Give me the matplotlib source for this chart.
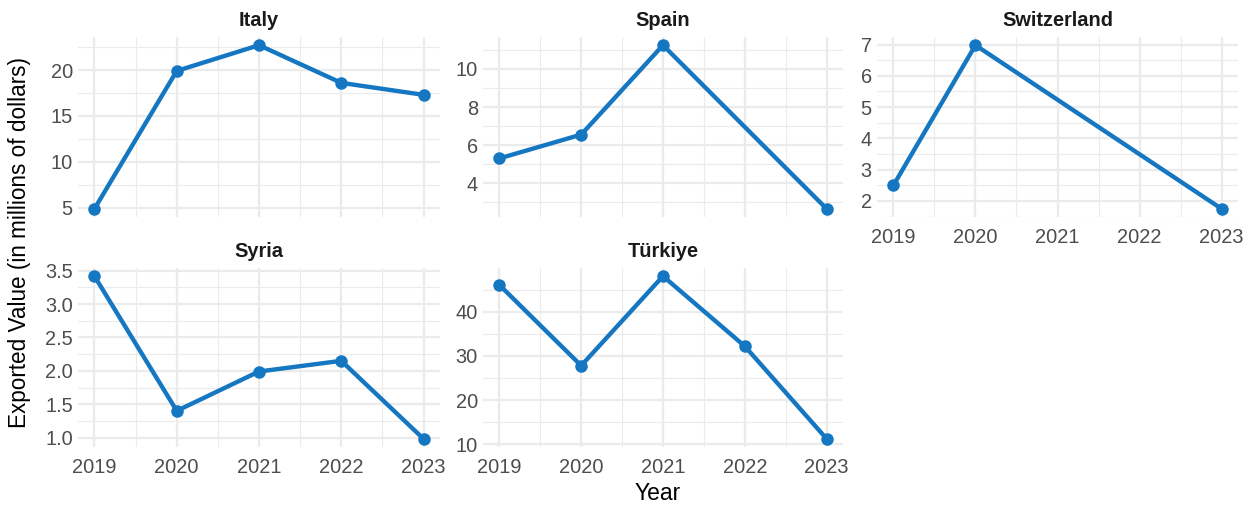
#!/usr/bin/env python3
"""Exported value by country, 2019-2023 -- small multiples in a ggplot-like minimal style."""

import matplotlib
matplotlib.use("Agg")
import matplotlib.pyplot as plt
from matplotlib.ticker import MultipleLocator, FormatStrFormatter

# ─── Data (millions of dollars) ─────────────────────────────────────────────

countries = ["Italy", "Spain", "Switzerland", "Syria", "Türkiye"]

italy_years = [2019, 2020, 2021, 2022, 2023]
italy_values = [4.9, 19.9, 22.7, 18.6, 17.3]

spain_years = [2019, 2020, 2021, 2023]
spain_values = [5.3, 6.55, 11.25, 2.65]

switzerland_years = [2019, 2020, 2023]
switzerland_values = [2.5, 6.98, 1.75]

syria_years = [2019, 2020, 2021, 2022, 2023]
syria_values = [3.42, 1.4, 1.99, 2.15, 0.98]

turkiye_years = [2019, 2020, 2021, 2022, 2023]
turkiye_values = [46.1, 27.8, 48.1, 32.2, 11.2]

year_ticks = [2019, 2020, 2021, 2022, 2023]

# ─── Style ──────────────────────────────────────────────────────────────────

W, H, DPI = 1252, 506, 150
LINE_COLOR = "#1577C2"
GRID_COLOR = "#EBEBEB"
TEXT_COLOR = "#4D4D4D"

plt.rcParams["font.family"] = ["Liberation Sans", "DejaVu Sans"]


def add_panel(fig, box, title, xs, ys, step, fmt, show_x):
    """box = (left, right, top, bottom) in pixels."""
    l, r, t, b = box
    ax = fig.add_axes([l / W, 1 - b / H, (r - l) / W, (b - t) / H])
    ax.plot(xs, ys, color=LINE_COLOR, linewidth=2.1, marker="o",
            markersize=5.0, solid_capstyle="round", zorder=3)

    # ggplot-style 5% expansion
    x0, x1 = min(year_ticks), max(year_ticks)
    dx = (x1 - x0) * 0.05
    ax.set_xlim(x0 - dx, x1 + dx)
    y0, y1 = min(ys), max(ys)
    dy = (y1 - y0) * 0.05
    ax.set_ylim(y0 - dy, y1 + dy)

    ax.set_xticks(year_ticks)
    ax.xaxis.set_minor_locator(MultipleLocator(0.5))
    ax.yaxis.set_major_locator(MultipleLocator(step))
    ax.yaxis.set_minor_locator(MultipleLocator(step / 2))
    ax.yaxis.set_major_formatter(FormatStrFormatter(fmt))

    ax.grid(which="major", color=GRID_COLOR, linewidth=1.1)
    ax.grid(which="minor", color=GRID_COLOR, linewidth=0.55)
    ax.set_axisbelow(True)
    for s in ax.spines.values():
        s.set_visible(False)
    ax.tick_params(which="both", length=0)
    ax.tick_params(axis="y", labelsize=9.6, labelcolor=TEXT_COLOR, pad=2.5)
    ax.tick_params(axis="x", labelsize=9.6, labelcolor=TEXT_COLOR, pad=5.5,
                   labelbottom=show_x)
    ax.set_title(title, fontsize=9.6, fontweight="bold", color="#1A1A1A", pad=5.5)
    return ax


def main():
    fig = plt.figure(figsize=(W / DPI, H / DPI), dpi=DPI)

    cols = [(78, 440), (483, 843), (877, 1238)]
    rows = [(37, 217), (268, 447)]

    panels = [
        (italy_years, italy_values, 5, "%g", False),
        (spain_years, spain_values, 2, "%g", False),
        (switzerland_years, switzerland_values, 1, "%g", True),
        (syria_years, syria_values, 0.5, "%.1f", True),
        (turkiye_years, turkiye_values, 10, "%g", True),
    ]

    for i, (name, (xs, ys, step, fmt, show_x)) in enumerate(zip(countries, panels)):
        l, r = cols[i % 3]
        t, b = rows[i // 3]
        add_panel(fig, (l, r, t, b), name, xs, ys, step, fmt, show_x)

    fig.text(658 / W, 1 - 493 / H, "Year", ha="center", va="center",
             fontsize=11, color="black")
    fig.text(20 / W, 1 - 242 / H, "Exported Value (in millions of dollars)",
             ha="center", va="center", rotation=90, fontsize=10.8, color="black")

    fig.savefig("out.png", dpi=DPI, facecolor="white")
    plt.close(fig)


if __name__ == "__main__":
    main()
